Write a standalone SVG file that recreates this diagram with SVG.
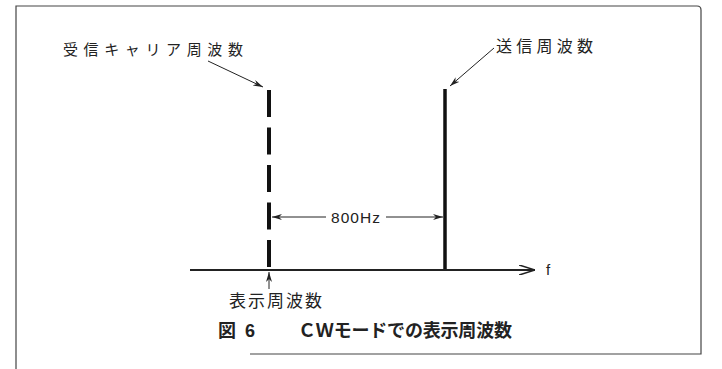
<svg xmlns="http://www.w3.org/2000/svg" width="722" height="369" viewBox="0 0 722 369">
<defs>
<style>
.frame{stroke:#444;stroke-width:1.2;fill:none}
.lbl{font-family:"Noto Sans CJK JP","Liberation Sans",sans-serif;fill:#222}
.lat{font-family:"Liberation Sans","Noto Sans CJK JP",sans-serif;fill:#222}
.ln{stroke:#222;fill:none}
</style>
<marker id="ah" viewBox="0 0 10 6" refX="10" refY="3" markerWidth="10" markerHeight="6" markerUnits="userSpaceOnUse" orient="auto">
<path d="M0,0 L10,3 L0,6 L3,3 Z" fill="#222"/>
</marker>
<marker id="ahBig" viewBox="0 0 16 10" refX="16" refY="5" markerWidth="16" markerHeight="10" markerUnits="userSpaceOnUse" orient="auto">
<path d="M0,0 L16,5 L0,10" fill="none" stroke="#222" stroke-width="1.6"/>
</marker>
</defs>
<rect width="722" height="369" fill="#fff"/>
<g id="frame">
<path class="frame" d="M16,369 V6 H697 Q701,6 701,10 V354 H250"/>
</g>
<g id="carrier">
<line x1="269" y1="90" x2="269" y2="270" stroke="#111" stroke-width="4" stroke-dasharray="27 10.5"/>
<text class="lbl" x="63" y="55" font-size="15" textLength="180" lengthAdjust="spacing">受信キャリア周波数</text>
</g>
<g id="transmit">
<line x1="445" y1="89" x2="445" y2="270" stroke="#111" stroke-width="3.5"/>
<text class="lbl" x="496" y="52" font-size="16" textLength="97" lengthAdjust="spacing">送信周波数</text>
</g>
<g id="axis">
<line class="ln" x1="190" y1="270" x2="535" y2="270" stroke-width="2" marker-end="url(#ahBig)"/>
<text class="lat" x="546" y="275" font-size="15">f</text>
</g>
<g id="display">
<text class="lbl" x="229" y="307" font-size="17" textLength="93" lengthAdjust="spacing">表示周波数</text>
</g>
<g id="connectors">
<line class="ln" x1="208" y1="61" x2="263" y2="87" stroke-width="1" marker-end="url(#ah)"/>
<line class="ln" x1="494" y1="48" x2="450" y2="86" stroke-width="1" marker-end="url(#ah)"/>
<line class="ln" x1="269" y1="289" x2="269" y2="272" stroke-width="1" marker-end="url(#ah)"/>
<line class="ln" x1="326" y1="217" x2="272" y2="217" stroke-width="1" marker-end="url(#ah)"/>
<line class="ln" x1="386" y1="217" x2="443" y2="217" stroke-width="1" marker-end="url(#ah)"/>
<text class="lat" x="331" y="222.5" font-size="15.5" textLength="49" lengthAdjust="spacing">800Hz</text>
</g>
<g id="title">
<text class="lbl" x="218" y="337" font-size="18" font-weight="bold">図</text>
<text class="lat" x="245" y="337" font-size="18" font-weight="bold">6</text>
<text class="lbl" x="298" y="337" font-size="18" font-weight="bold" textLength="214" lengthAdjust="spacing">ＣＷモードでの表示周波数</text>
</g>
</svg>
